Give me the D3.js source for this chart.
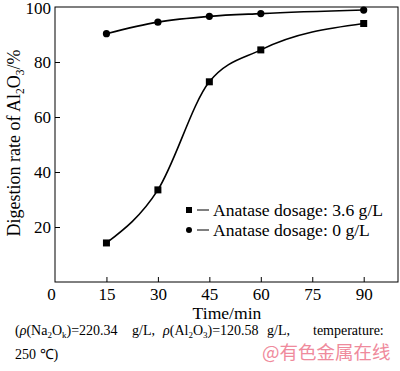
<!DOCTYPE html>
<html>
<head>
<meta charset="utf-8">
<script src="https://cdn.jsdelivr.net/npm/d3@7"></script>
<style>
  body { margin: 0; background: #fff; }
  text { font-family: "Liberation Serif", "Times New Roman", serif; fill: #000; }
</style>
</head>
<body>
<div id="chart-area"></div>
<script>
const times = [15, 30, 45, 60, 90]
const dosed = [14.2, 33.5, 72.8, 84.4, 94.0]     // 3.6 g/L
const blank = [90.3, 94.5, 96.6, 97.6, 98.9]     // 0 g/L
const xTicks = [0, 15, 30, 45, 60, 75, 90]
const yTicks = [20, 40, 60, 80, 100]
const seriesNames = ["Anatase dosage: 3.6 g/L", "Anatase dosage: 0 g/L"]

const W = 400, H = 371
const MARGIN = { LEFT: 55, RIGHT: 2, TOP: 7, BOTTOM: 89 }
const WIDTH = W - MARGIN.LEFT - MARGIN.RIGHT
const HEIGHT = H - MARGIN.TOP - MARGIN.BOTTOM

const svg = d3.select("#chart-area").append("svg")
  .attr("width", W).attr("height", H)

const g = svg.append("g")
  .attr("transform", `translate(${MARGIN.LEFT}, ${MARGIN.TOP})`)

const x = d3.scaleLinear().domain([0, 100]).range([0, WIDTH])
const y = d3.scaleLinear().domain([0, 100]).range([HEIGHT, 0])

// frame
g.append("rect")
  .attr("width", WIDTH).attr("height", HEIGHT)
  .attr("fill", "none").attr("stroke", "#000").attr("stroke-width", 1)

const xAxis = g.append("g")
  .attr("transform", `translate(0,${HEIGHT})`)
  .call(d3.axisBottom(x).tickValues(xTicks).tickSizeInner(-5).tickSizeOuter(0).tickPadding(6))
xAxis.select(".domain").remove()
xAxis.selectAll("text").attr("font-size", 17)
  .attr("dx", d => d === 0 ? -4 : 0)
xAxis.selectAll(".tick").filter(d => d === 0).select("line").remove()

const yAxis = g.append("g")
  .call(d3.axisLeft(y).tickValues(yTicks).tickSizeInner(-5).tickSizeOuter(0).tickPadding(4))
yAxis.select(".domain").remove()
yAxis.selectAll("text").attr("font-size", 17)
  .attr("y", d => d === 100 ? 1.5 : 0)
yAxis.selectAll(".tick").filter(d => d === 100).select("line").remove()

const line = d3.line()
  .x(d => x(d[0])).y(d => y(d[1]))
  .curve(d3.curveMonotoneX)

const dosedPts = times.map((t, i) => [t, dosed[i]])
const blankPts = times.map((t, i) => [t, blank[i]])

g.append("path").attr("d", line(dosedPts))
  .attr("fill", "none").attr("stroke", "#000").attr("stroke-width", 1.6)
g.append("path").attr("d", line(blankPts))
  .attr("fill", "none").attr("stroke", "#000").attr("stroke-width", 1.6)

g.selectAll(".sq").data(dosedPts).enter().append("rect")
  .attr("x", d => x(d[0]) - 3.5).attr("y", d => y(d[1]) - 3.5)
  .attr("width", 7).attr("height", 7).attr("fill", "#000")
g.selectAll(".dot").data(blankPts).enter().append("circle")
  .attr("cx", d => x(d[0])).attr("cy", d => y(d[1]))
  .attr("r", 3.6).attr("fill", "#000")

// legend
const leg = svg.append("g")
leg.append("rect").attr("x", 186).attr("y", 207).attr("width", 6).attr("height", 6).attr("fill", "#000")
leg.append("circle").attr("cx", 189).attr("cy", 230).attr("r", 3).attr("fill", "#000")
leg.selectAll(".dash").data([210, 230]).enter().append("line")
  .attr("x1", 197).attr("x2", 209).attr("y1", d => d).attr("y2", d => d)
  .attr("stroke", "#000").attr("stroke-width", 1)
leg.selectAll(".lt").data(seriesNames).enter().append("text")
  .attr("x", 213).attr("y", (d, i) => 216 + i * 20)
  .attr("font-size", 17.6).text(d => d)

// axis titles
svg.append("text")
  .attr("x", 227).attr("y", 319).attr("text-anchor", "middle")
  .attr("font-size", 17.6).text("Time/min")

const yl = svg.append("text")
  .attr("transform", "translate(20,143) rotate(-90)")
  .attr("text-anchor", "middle").attr("font-size", 18)
yl.append("tspan").text("Digestion rate of Al")
yl.append("tspan").attr("font-size", 11.5).attr("dy", 4).text("2")
yl.append("tspan").attr("dy", -4).text("O")
yl.append("tspan").attr("font-size", 11.5).attr("dy", 4).text("3")
yl.append("tspan").attr("dy", -4).text("/%")

// caption, pieces placed at the positions
const cap = svg.append("text").attr("y", 335).attr("font-size", 14)
cap.append("tspan").attr("x", 15).text("(")
cap.append("tspan").attr("font-style", "italic").text("ρ")
cap.append("tspan").text("(Na")
cap.append("tspan").attr("font-size", 9).attr("dy", 3).text("2")
cap.append("tspan").attr("dy", -3).text("O")
cap.append("tspan").attr("font-size", 9).attr("dy", 3).text("k")
cap.append("tspan").attr("dy", -3).text(")=220.34")
cap.append("tspan").attr("x", 132).text("g/L,")
cap.append("tspan").attr("x", 163).attr("font-style", "italic").text("ρ")
cap.append("tspan").text("(Al")
cap.append("tspan").attr("font-size", 9).attr("dy", 3).text("2")
cap.append("tspan").attr("dy", -3).text("O")
cap.append("tspan").attr("font-size", 9).attr("dy", 3).text("3")
cap.append("tspan").attr("dy", -3).text(")=120.58")
cap.append("tspan").attr("x", 267).text("g/L,")
cap.append("tspan").attr("x", 313).text("temperature:")

svg.append("text").attr("x", 15).attr("y", 359).attr("font-size", 14).text("250 ℃)")

svg.append("text").attr("x", 262).attr("y", 359)
  .style("font-family", "'Noto Sans CJK SC'")
  .attr("font-size", 18.5).style("fill", "#ef8a9c")
  .text("@有色金属在线")
</script>
</body>
</html>
